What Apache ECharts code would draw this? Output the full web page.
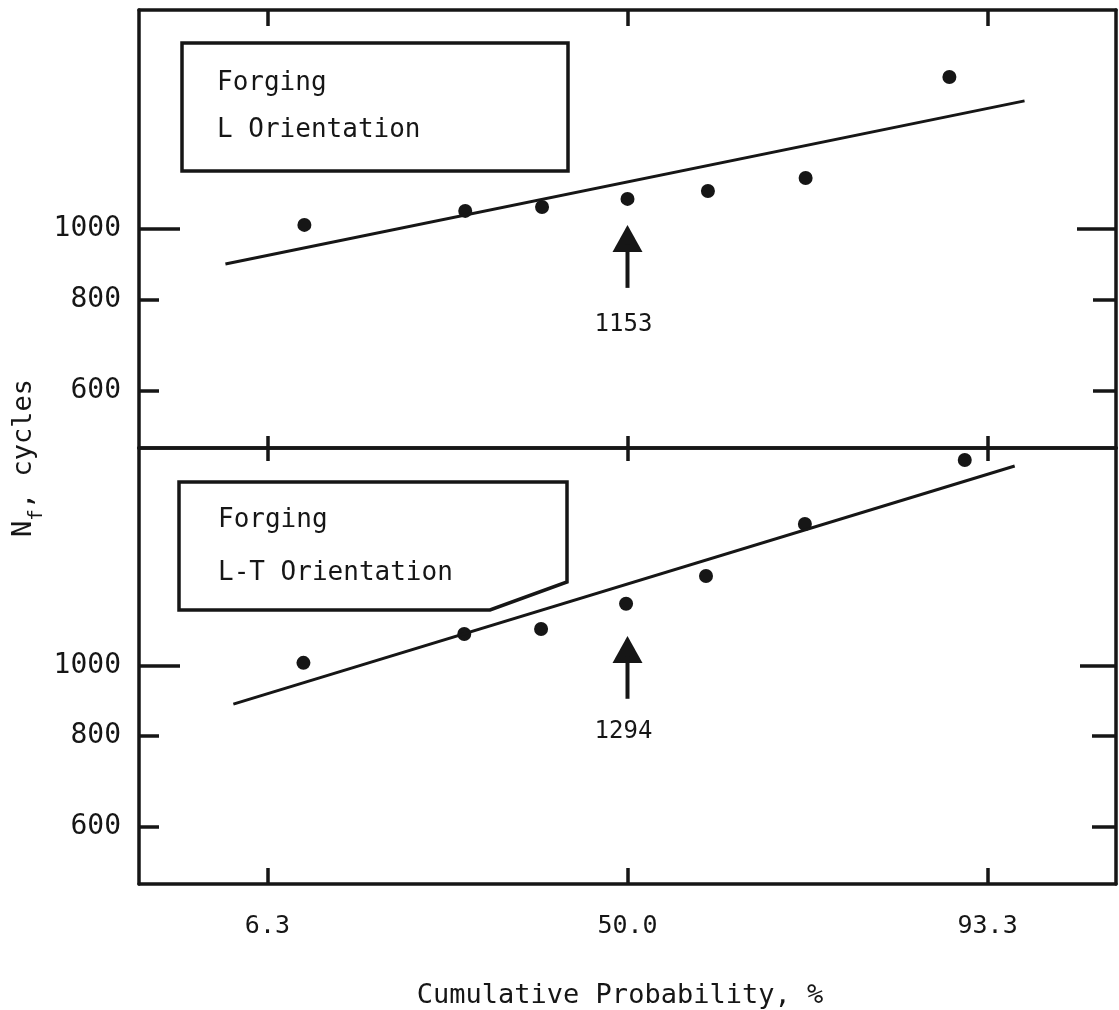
<!DOCTYPE html>
<html>
<head>
<meta charset="utf-8">
<script src="https://cdn.jsdelivr.net/npm/echarts@6/dist/echarts.min.js"></script>
<style>
  html, body { margin: 0; padding: 0; background: #ffffff; }
  #chart { width: 1119px; height: 1010px; }
</style>
</head>
<body>
<div id="chart"></div>
<script>
// ---- data (x = standard normal variate of cumulative probability, y = Nf cycles) ----
const probTickZ = [-1.5, 0, 1.5];
const probTickLabels = ['6.3', '50.0', '93.3'];
const cycleTicks = [600, 800, 1000];
const cycleMin = 500;
const cycleMax = 2000;

// Panel 1: Forging, L orientation
const zL  = [-1.346, -0.676, -0.356, 0.000, 0.335, 0.742, 1.341];
const nfL = [1013, 1059, 1072, 1100, 1128, 1175, 1618];
const fitZL  = [-1.675, 1.654];
const fitNfL = [895, 1500];
const medianZL = [0];
const medianTipL = [1013];
const medianTailL = [830];
const medianLabelL = ['1153'];

// Panel 2: Forging, L-T orientation
const zLT  = [-1.350, -0.680, -0.360, -0.006, 0.327, 0.739, 1.405];
const nfLT = [1010, 1107, 1125, 1219, 1331, 1571, 1925];
const fitZLT  = [-1.642, 1.613];
const fitNfLT = [886, 1889];
const medianZLT = [0];
const medianTipLT = [1100];
const medianTailLT = [901];
const medianLabelLT = ['1294'];

const boxTextL = ['Forging', 'L Orientation'];
const boxTextLT = ['Forging', 'L-T Orientation'];
const xTitle = 'Cumulative Probability, %';

// ---- helpers ----
const INK = '#161616';
const MONO = '"DejaVu Sans Mono", "Liberation Mono", monospace';
const lg = v => Math.log10(v);
const pairs = (xs, ys) => xs.map((x, i) => [x, lg(ys[i])]);

function xAxisDef(gridIndex, position, tickLen, showLabels) {
  return {
    type: 'value', gridIndex, position,
    min: -2.035, max: 2.035,
    axisLine: { show: true, onZero: false, lineStyle: { color: INK, width: 3.5 } },
    axisTick: { show: true, inside: true, length: tickLen, customValues: probTickZ,
                lineStyle: { color: INK, width: 3.5 } },
    axisLabel: { show: showLabels, customValues: probTickZ, margin: 30,
                 formatter: v => probTickLabels[probTickZ.indexOf(v)] || '',
                 color: INK, fontFamily: MONO, fontSize: 25 },
    splitLine: { show: false }
  };
}
function yAxisDef(gridIndex, position, tickVals, tickLen, showLine, showLabels) {
  return {
    type: 'value', gridIndex, position,
    min: lg(cycleMin), max: lg(cycleMax),
    axisLine: { show: showLine, onZero: false, lineStyle: { color: INK, width: 3.5 } },
    axisTick: { show: true, inside: true, length: tickLen, customValues: tickVals.map(lg),
                lineStyle: { color: INK, width: 3.5 } },
    axisLabel: { show: showLabels, customValues: cycleTicks.map(lg), margin: 18,
                 formatter: v => String(Math.round(Math.pow(10, v))),
                 color: INK, fontFamily: MONO, fontSize: 28 },
    splitLine: { show: false }
  };
}
function arrowSeries(xAxisIndex, yAxisIndex, zs, tips, tails, labels, labelDy) {
  return {
    type: 'custom', xAxisIndex, yAxisIndex, silent: true,
    data: zs.map((z, i) => [z, lg(tips[i]), lg(tails[i])]),
    renderItem: (params, api) => {
      const tip = api.coord([api.value(0), api.value(1)]);
      const tail = api.coord([api.value(0), api.value(2)]);
      return {
        type: 'group',
        children: [
          { type: 'polygon', shape: { points: [[tip[0], tip[1]], [tip[0] - 15, tip[1] + 27], [tip[0] + 15, tip[1] + 27]] },
            style: { fill: INK } },
          { type: 'line', shape: { x1: tip[0], y1: tip[1] + 20, x2: tail[0], y2: tail[1] },
            style: { stroke: INK, lineWidth: 4 } },
          { type: 'text', x: tail[0] - 4, y: tail[1] + labelDy,
            style: { text: labels[params.dataIndex], font: '24px ' + MONO, fill: INK,
                     align: 'center', verticalAlign: 'middle' } }
        ]
      };
    }
  };
}

const chart = echarts.init(document.getElementById('chart'), null, { renderer: 'canvas' });
chart.setOption({
  backgroundColor: '#ffffff',
  animation: false,
  grid: [
    { left: 139, top: 10, width: 977, height: 438, outerBoundsMode: 'none', containLabel: false },
    { left: 139, top: 448, width: 977, height: 436, outerBoundsMode: 'none', containLabel: false }
  ],
  xAxis: [
    xAxisDef(0, 'bottom', 12, false),
    xAxisDef(0, 'top', 16, false),
    xAxisDef(1, 'bottom', 16, true),
    xAxisDef(1, 'top', 13, false)
  ],
  yAxis: [
    yAxisDef(0, 'left', cycleTicks, 20, true, true),
    yAxisDef(0, 'left', [1000], 41, false, false),
    yAxisDef(0, 'right', cycleTicks, 23, true, false),
    yAxisDef(0, 'right', [1000], 39, false, false),
    yAxisDef(1, 'left', cycleTicks, 20, true, true),
    yAxisDef(1, 'left', [1000], 41, false, false),
    yAxisDef(1, 'right', cycleTicks, 24, true, false),
    yAxisDef(1, 'right', [1000], 36, false, false)
  ],
  series: [
    { type: 'scatter', xAxisIndex: 0, yAxisIndex: 0, data: pairs(zL, nfL),
      symbol: 'circle', symbolSize: 14, itemStyle: { color: INK, opacity: 1 } },
    { type: 'line', xAxisIndex: 0, yAxisIndex: 0, data: pairs(fitZL, fitNfL),
      showSymbol: false, symbol: 'none', lineStyle: { color: INK, width: 3, opacity: 1 } },
    arrowSeries(0, 0, medianZL, medianTipL, medianTailL, medianLabelL, 37),
    { type: 'scatter', xAxisIndex: 2, yAxisIndex: 4, data: pairs(zLT, nfLT),
      symbol: 'circle', symbolSize: 14, itemStyle: { color: INK, opacity: 1 } },
    { type: 'line', xAxisIndex: 2, yAxisIndex: 4, data: pairs(fitZLT, fitNfLT),
      showSymbol: false, symbol: 'none', lineStyle: { color: INK, width: 3, opacity: 1 } },
    arrowSeries(2, 4, medianZLT, medianTipLT, medianTailLT, medianLabelLT, 33)
  ],
  graphic: [
    { type: 'rect', shape: { x: 182, y: 43, width: 386, height: 128 },
      style: { fill: 'none', stroke: INK, lineWidth: 3.5 } },
    { type: 'text', x: 217, y: 83, style: { text: boxTextL[0], font: '26px ' + MONO, fill: INK, verticalAlign: 'middle' } },
    { type: 'text', x: 217, y: 130, style: { text: boxTextL[1], font: '26px ' + MONO, fill: INK, verticalAlign: 'middle' } },
    { type: 'polygon', shape: { points: [[179, 482], [567, 482], [567, 582], [490, 610], [179, 610]] },
      style: { fill: 'none', stroke: INK, lineWidth: 3.5 } },
    { type: 'text', x: 218, y: 520, style: { text: boxTextLT[0], font: '26px ' + MONO, fill: INK, verticalAlign: 'middle' } },
    { type: 'text', x: 218, y: 573, style: { text: boxTextLT[1], font: '26px ' + MONO, fill: INK, verticalAlign: 'middle' } },
    { type: 'text', x: 620, y: 996, style: { text: xTitle, font: '27px ' + MONO, fill: INK, align: 'center', verticalAlign: 'middle' } },
    { type: 'group', x: 10, y: 537, rotation: Math.PI / 2,
      children: [
        { type: 'text', x: 0, y: 0, style: { text: 'N', font: '27px ' + MONO, fill: INK, verticalAlign: 'top' } },
        { type: 'text', x: 16, y: 17, style: { text: 'f', font: '20px ' + MONO, fill: INK, verticalAlign: 'top' } },
        { type: 'text', x: 28, y: 0, style: { text: ', cycles', font: '27px ' + MONO, fill: INK, verticalAlign: 'top' } }
      ] }
  ]
});
</script>
</body>
</html>
